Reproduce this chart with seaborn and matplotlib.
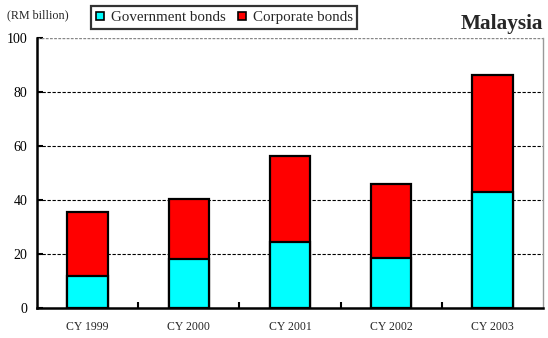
import matplotlib
matplotlib.use("Agg")
import matplotlib.pyplot as plt
from matplotlib.lines import Line2D
import seaborn as sns
import pandas as pd

# Bond issuance by calendar year (RM billion)
years = ["CY 1999", "CY 2000", "CY 2001", "CY 2002", "CY 2003"]
government = [12.0, 18.1, 24.6, 18.7, 43.1]
corporate = [23.7, 22.2, 31.8, 27.3, 43.0]

totals = [g + c for g, c in zip(government, corporate)]
df = pd.DataFrame({"year": years, "government": government, "total": totals})

sns.set_theme(style="white")
plt.rcParams["font.family"] = ["Liberation Serif", "DejaVu Serif"]

fig = plt.figure(figsize=(5.48, 3.38), dpi=100)
ax = fig.add_axes([0.0675, 0.088, 0.9235, 0.801])

gov_color = "#00FFFF"
corp_color = "#FF0000"

sns.barplot(data=df, x="year", y="total", color=corp_color, width=0.4,
            edgecolor="black", linewidth=1.6, saturation=1, ax=ax, zorder=3)
sns.barplot(data=df, x="year", y="government", color=gov_color, width=0.4,
            edgecolor="black", linewidth=1.6, saturation=1, ax=ax, zorder=4)

ax.set_ylim(0, 100)
ax.set_xlim(-0.5, 4.5)
ax.set_yticks(range(0, 101, 20))
ax.set_xlabel("")
ax.set_ylabel("")

# dashed horizontal gridlines
for v in range(20, 100, 20):
    ax.axhline(v, color="black", lw=0.8, ls=(0, (3, 1.5)), zorder=1)
ax.axhline(100, color="#888888", lw=1.0, ls=(0, (2, 1)), zorder=1)

for side in ["left", "bottom"]:
    ax.spines[side].set_color("black")
    ax.spines[side].set_linewidth(1.8)
ax.spines["top"].set_visible(False)
ax.spines["right"].set_color("#999999")
ax.spines["right"].set_linewidth(1.0)

ax.tick_params(axis="y", which="major", direction="in", length=4, width=1.5,
               left=True, labelsize=10, pad=7, colors="black")
ax.tick_params(axis="x", which="major", length=0, labelsize=8.5, pad=9)
ax.set_xticks([0.5, 1.5, 2.5, 3.5], minor=True)
ax.tick_params(axis="x", which="minor", direction="in", length=4, width=1.5,
               bottom=True, color="black")

fig.text(0.013, 0.956, "(RM billion)", fontsize=8.7, ha="left", va="center")
fig.text(0.992, 0.93, "Malaysia", fontsize=15.3, fontweight="bold",
         ha="right", va="center")

handles = [
    Line2D([], [], marker="s", ls="none", markersize=6, markerfacecolor=gov_color,
           markeredgecolor="black", markeredgewidth=1.2, label="Government bonds"),
    Line2D([], [], marker="s", ls="none", markersize=6, markerfacecolor=corp_color,
           markeredgecolor="black", markeredgewidth=1.2, label="Corporate bonds"),
]
leg = fig.legend(handles=handles, loc="center", bbox_to_anchor=(0.409, 0.948),
                 ncol=2, frameon=True, fancybox=False, fontsize=10.8,
                 handlelength=0.6, handletextpad=0.4, columnspacing=0.8,
                 borderpad=0.3, borderaxespad=0)
leg.get_frame().set_edgecolor("black")
leg.get_frame().set_linewidth(1.6)

fig.savefig("out.png", dpi=100)
